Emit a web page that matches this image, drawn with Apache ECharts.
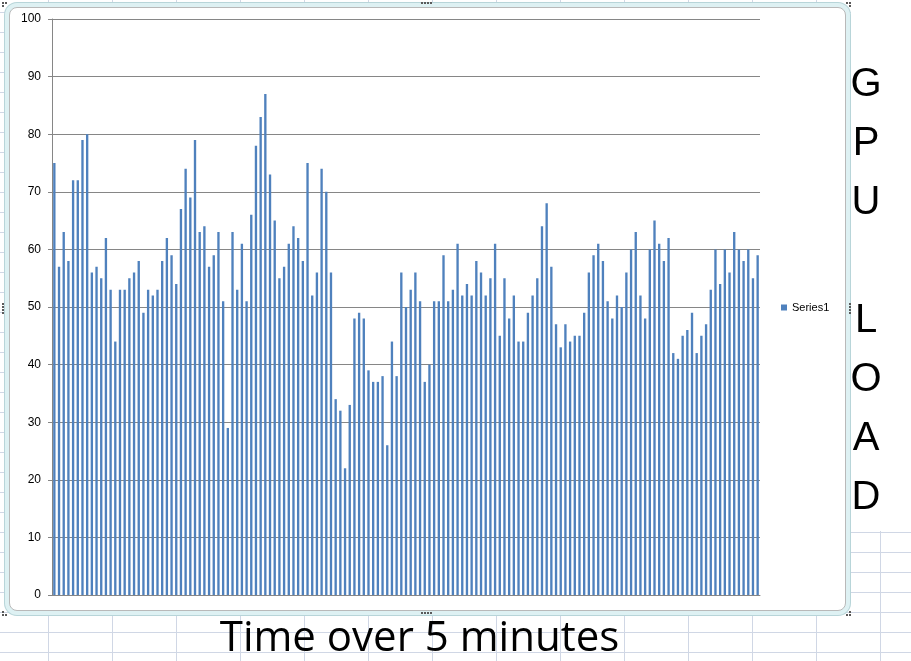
<!DOCTYPE html>
<html><head><meta charset="utf-8">
<script src="https://cdn.jsdelivr.net/npm/echarts/dist/echarts.min.js"></script>
<style>
html,body{margin:0;padding:0;width:911px;height:661px;overflow:hidden;background:#fff;}
#sheet{position:absolute;left:0;top:0;width:911px;height:661px;
background-image:linear-gradient(to right,#d0d7e5 1px,transparent 1px),linear-gradient(to bottom,#d0d7e5 1px,transparent 1px);
background-size:64px 20px;background-position:48px 12px;}
#textbox{position:absolute;left:851px;top:0;width:60px;height:531px;background:#fff;}
#frame{position:absolute;left:9px;top:7px;width:835px;height:602px;background:#fff;border:1px solid #b9b9b9;border-radius:8px;box-shadow:0 0 0 4px #def1f3,0 0 0 5px #b8d5d9;}
#chart{position:absolute;left:0;top:0;width:911px;height:661px;}
.dot{position:absolute;width:2px;height:2px;background:#5a5a5a;}
</style></head>
<body>
<div id="sheet"></div>
<div id="textbox"></div>
<div id="frame"></div>
<div id="dots"></div>
<div id="chart"></div>
<script>
// ---- data ----
const categories = Array.from({length: 151}, (_, i) => String(i + 1));
const gpuLoad = [
  75,57,63,58,72,72,79,80,56,57,55,62,53,44,53,53,55,56,58,49,53,52,53,58,62,
  59,54,67,74,69,79,63,64,57,59,63,51,29,63,53,61,51,66,78,83,87,73,65,55,57,
  61,64,62,58,75,52,56,74,70,56,34,32,22,33,48,49,48,39,37,37,38,26,44,38,56,
  50,53,56,51,37,40,51,51,59,51,53,61,52,54,52,58,56,52,55,61,45,55,48,52,44,
  44,49,52,55,64,68,57,47,43,47,44,45,45,49,56,59,61,58,51,48,52,50,56,60,63,
  52,48,60,65,61,58,62,42,41,45,46,49,42,45,47,53,60,54,60,56,63,60,58,60,55,59
];
const seriesName = 'Series1';
const xTitle = 'Time over 5 minutes';
const sideTitle = ['G','P','U','','L','O','A','D'];

// selection handle dots (decoration)
const dotPos = [
  [2,2],[5,2],[2,5],
  [846,2],[849,2],[849,5],
  [2,611],[2,614],[5,614],
  [849,611],[849,614],[846,614],
  [421,2],[424,2],[427,2],[430,2],
  [421,612],[424,612],[427,612],[430,612],
  [2,303],[2,306],[2,309],[2,312],
  [849,303],[849,306],[849,309],[849,312]
];
const dotsEl = document.getElementById('dots');
dotPos.forEach(p => { const d = document.createElement('div'); d.className = 'dot'; d.style.left = p[0] + 'px'; d.style.top = p[1] + 'px'; dotsEl.appendChild(d); });

const chart = echarts.init(document.getElementById('chart'), null, {renderer: 'canvas'});
const graphics = [{
  type: 'text', x: 419.5, y: 639, z: 10,
  style: {text: xTitle, font: '42px "Open Sans"', fill: '#000', align: 'center', verticalAlign: 'middle'}
}];
sideTitle.forEach((ch, i) => {
  if (!ch) return;
  graphics.push({type: 'text', x: 866, y: 85 + i * 59, z: 10,
    style: {text: ch, font: '40px "Liberation Sans"', fill: '#000', align: 'center', verticalAlign: 'middle'}});
});
chart.setOption({
  backgroundColor: 'transparent',
  animation: false,
  grid: {left: 52, right: 151, top: 19, bottom: 66, containLabel: false},
  legend: {
    data: [seriesName], left: 781, top: 302, orient: 'vertical', padding: 0,
    itemWidth: 6, itemHeight: 6, icon: 'rect',
    textStyle: {fontFamily: 'Liberation Sans', fontSize: 11, color: '#000'}
  },
  xAxis: {
    type: 'category', data: categories,
    axisLine: {lineStyle: {color: '#868686'}},
    axisTick: {show: false}, axisLabel: {show: false}
  },
  yAxis: {
    type: 'value', min: 0, max: 100, interval: 10,
    axisLine: {show: true, lineStyle: {color: '#868686'}},
    axisTick: {show: true, length: 4, lineStyle: {color: '#868686'}},
    splitLine: {lineStyle: {color: '#868686'}},
    axisLabel: {margin: 11, fontSize: 12, fontFamily: 'Liberation Sans', color: '#000'}
  },
  series: [{
    name: seriesName, type: 'bar', data: gpuLoad, barWidth: '50%',
    itemStyle: {color: '#4F81BD'}
  }],
  graphic: graphics
});
</script>
</body></html>
